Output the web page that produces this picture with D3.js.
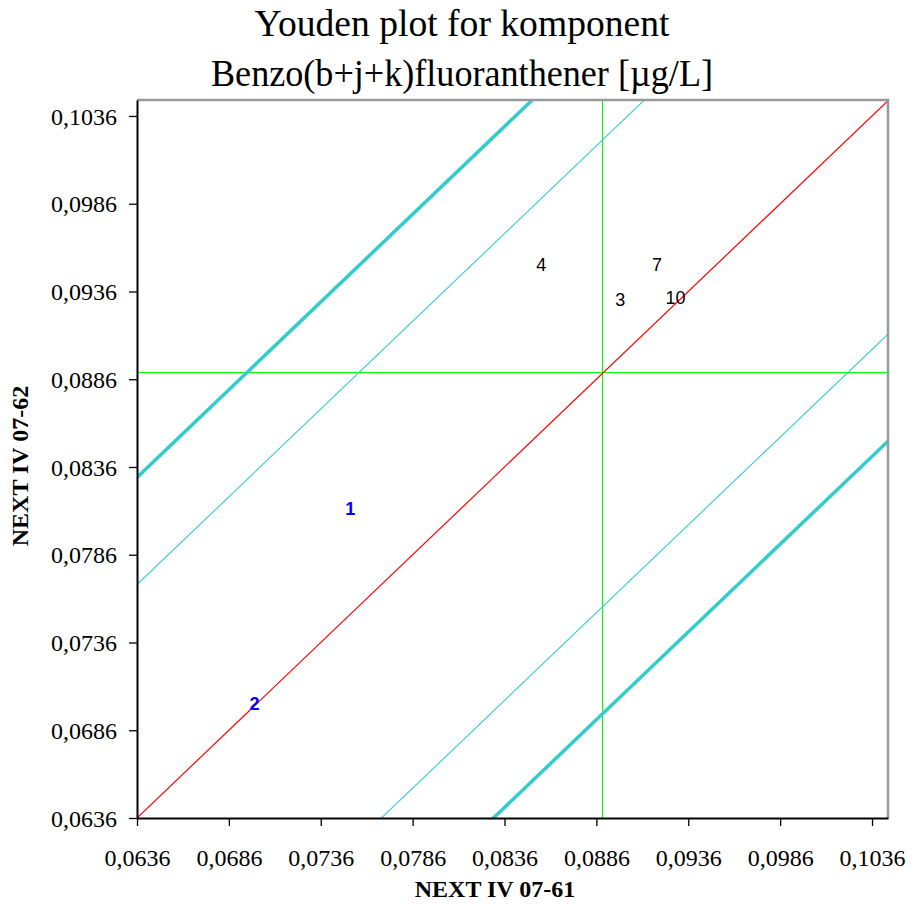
<!DOCTYPE html>
<html>
<head>
<meta charset="utf-8">
<script src="https://cdn.jsdelivr.net/npm/d3@7"></script>
<style>
  html, body { margin: 0; padding: 0; background: #ffffff; }
  svg { display: block; }
</style>
</head>
<body>
<div id="chart"></div>
<script>
// ---- Data ----
const titleLines = ["Youden plot for komponent", "Benzo(b+j+k)fluoranthener [µg/L]"];
const xLabel = "NEXT IV 07-61";
const yLabel = "NEXT IV 07-62";
const tickValues = [0.0636, 0.0686, 0.0736, 0.0786, 0.0836, 0.0886, 0.0936, 0.0986, 0.1036];
const domainX = [0.0636, 0.10447];
const domainY = [0.0636, 0.10451];

const pointLabels = ["1", "2", "3", "4", "7", "10"];
const pointX = [0.0752, 0.0700, 0.0899, 0.0856, 0.0919, 0.0929];
const pointY = [0.0812, 0.0701, 0.0931, 0.0951, 0.0951, 0.0932];
const pointOutlier = [true, true, false, false, false, false];

const medianX = 0.0889;
const medianY = 0.0890;
const innerOffsets = [0.0133, -0.0133];
const outerOffsets = [0.0194, -0.0194];

// ---- Layout ----
const W = 915, H = 910;
const L = 137, R = 888, T = 100, B = 818;

const svg = d3.select("#chart").append("svg").attr("width", W).attr("height", H);

const x = d3.scaleLinear().domain(domainX).range([L, R]);
const y = d3.scaleLinear().domain(domainY).range([B, T]);
const fmt = v => d3.format(".4f")(v).replace(".", ",");

svg.append("defs").append("clipPath").attr("id", "clip")
  .append("rect").attr("x", L).attr("y", T).attr("width", R - L).attr("height", B - T);

const plot = svg.append("g").attr("clip-path", "url(#clip)");

function diag(c) {
  return [[domainX[0], domainX[0] + c], [domainX[1], domainX[1] + c]];
}
const lineGen = d3.line().x(d => x(d[0])).y(d => y(d[1]));

// median lines
plot.append("line").attr("x1", Math.round(x(medianX)) + 0.5).attr("x2", Math.round(x(medianX)) + 0.5).attr("y1", T).attr("y2", B)
  .attr("stroke", "#00ff00").attr("stroke-width", 1).attr("shape-rendering", "crispEdges");
plot.append("line").attr("x1", L).attr("x2", R).attr("y1", Math.round(y(medianY)) + 0.5).attr("y2", Math.round(y(medianY)) + 0.5)
  .attr("stroke", "#00ff00").attr("stroke-width", 1).attr("shape-rendering", "crispEdges");

// diagonal
plot.append("path").attr("d", lineGen(diag(0))).attr("stroke", "#ff0000").attr("stroke-width", 1.2).attr("fill", "none");

innerOffsets.forEach(c => {
  plot.append("path").attr("d", lineGen(diag(c))).attr("stroke", "#33cccc").attr("stroke-width", 1.1).attr("fill", "none");
});
outerOffsets.forEach(c => {
  plot.append("path").attr("d", lineGen(diag(c))).attr("stroke", "#33cccc").attr("stroke-width", 3.5).attr("fill", "none");
});

// point labels
pointLabels.forEach((lab, i) => {
  svg.append("text")
    .attr("x", x(pointX[i])).attr("y", y(pointY[i]))
    .attr("text-anchor", "middle").attr("dominant-baseline", "central")
    .attr("font-family", "Liberation Sans, Arial, sans-serif")
    .attr("font-size", 18)
    .attr("font-weight", pointOutlier[i] ? "bold" : "normal")
    .attr("fill", pointOutlier[i] ? "#0000ff" : "#000000")
    .text(lab);
});

// border top/right (grey)
svg.append("path").attr("d", `M${L},${T}H${R}V${B}`).attr("fill", "none")
  .attr("stroke", "#999999").attr("stroke-width", 2.5);

// axes
const xAxis = svg.append("g").attr("transform", `translate(0,${B})`)
  .call(d3.axisBottom(x).tickValues(tickValues).tickFormat(fmt).tickSize(8).tickSizeOuter(0));
const yAxis = svg.append("g").attr("transform", `translate(${L},0)`)
  .call(d3.axisLeft(y).tickValues(tickValues).tickFormat(fmt).tickSize(8).tickSizeOuter(0));

[xAxis, yAxis].forEach(g => {
  g.select(".domain").attr("stroke", "#000").attr("stroke-width", 2);
  g.selectAll(".tick line").attr("stroke", "#000").attr("stroke-width", 1.3);
  g.selectAll(".tick text").attr("font-family", "Liberation Serif, Times New Roman, serif")
    .attr("font-size", 24).attr("fill", "#000");
});
xAxis.selectAll(".tick text").attr("y", 48).attr("dy", 0);
yAxis.selectAll(".tick text").attr("x", -20).attr("dy", "0.34em");

// titles
const titleWidths = [415, 502];
titleLines.forEach((t, i) => {
  svg.append("text").attr("x", 462).attr("y", 36 + i * 50)
    .attr("text-anchor", "middle")
    .attr("font-family", "Liberation Serif, Times New Roman, serif")
    .attr("font-size", 38).attr("fill", "#000")
    .attr("textLength", titleWidths[i]).attr("lengthAdjust", "spacingAndGlyphs")
    .text(t);
});

svg.append("text").attr("x", 495).attr("y", 897).attr("text-anchor", "middle")
  .attr("font-family", "Liberation Serif, Times New Roman, serif").attr("font-weight", "bold")
  .attr("font-size", 24).attr("fill", "#000").text(xLabel);

svg.append("text").attr("transform", "translate(28,466) rotate(-90)").attr("text-anchor", "middle")
  .attr("font-family", "Liberation Serif, Times New Roman, serif").attr("font-weight", "bold")
  .attr("font-size", 24).attr("fill", "#000").text(yLabel);
</script>
</body>
</html>
